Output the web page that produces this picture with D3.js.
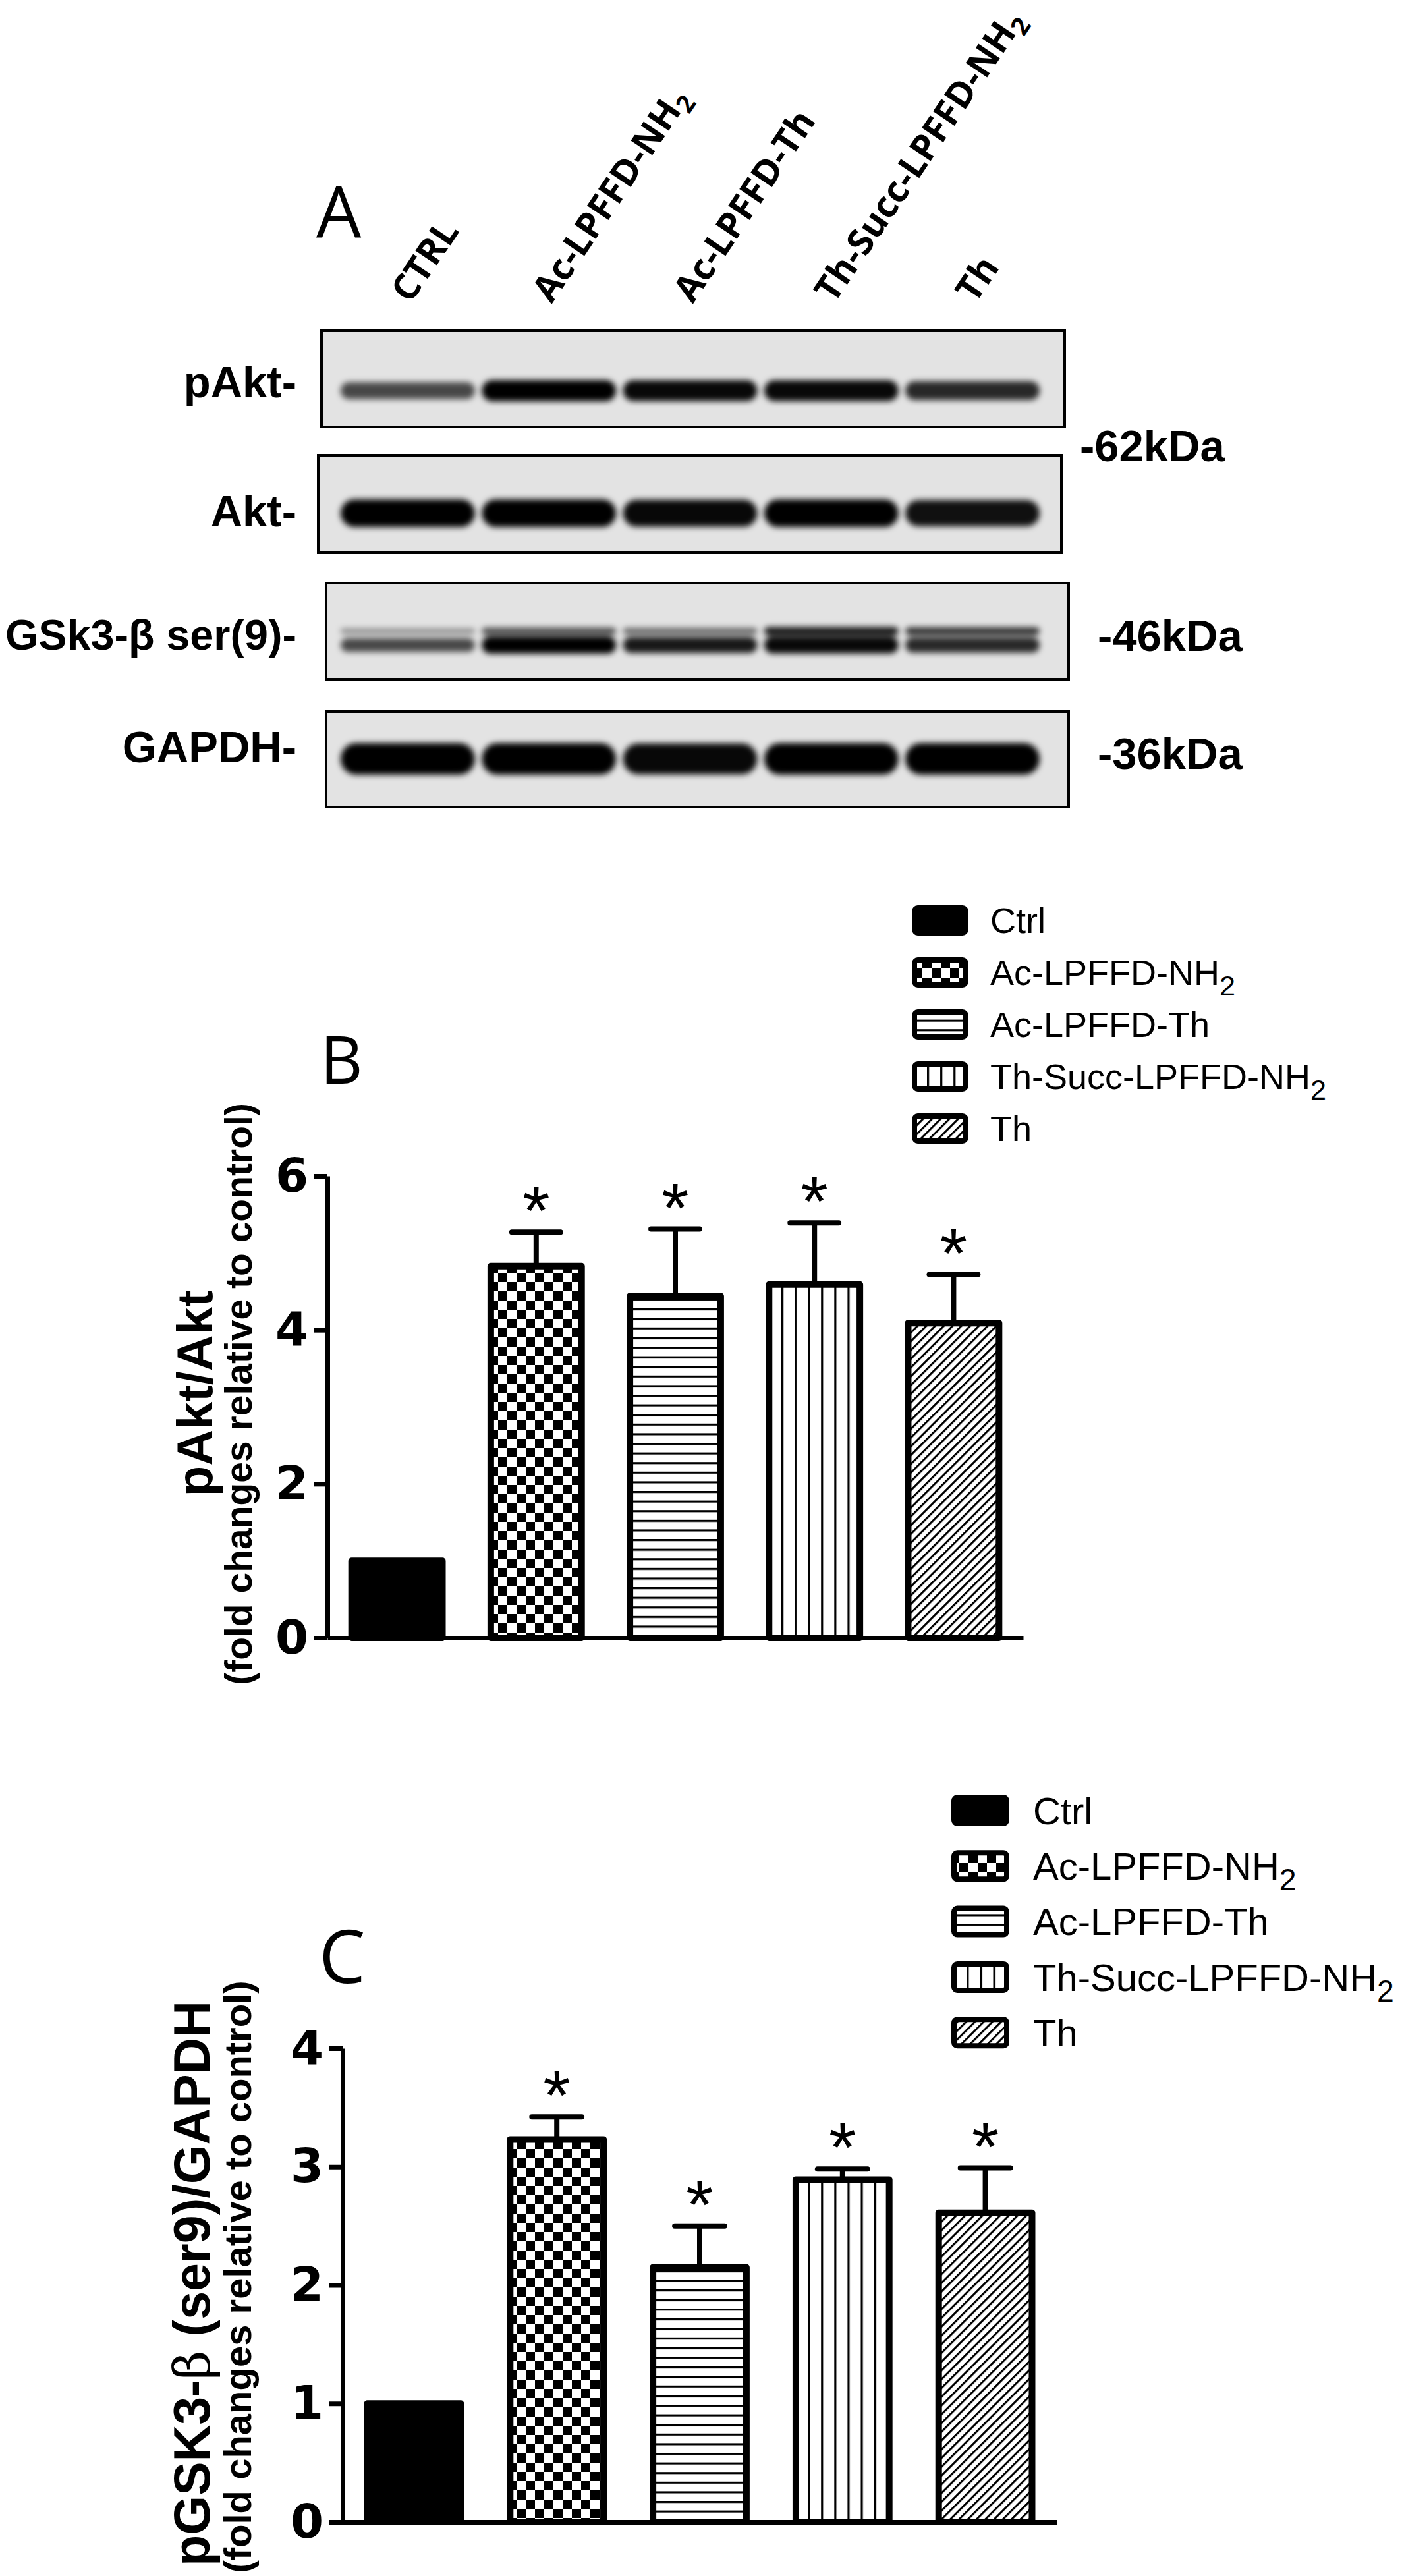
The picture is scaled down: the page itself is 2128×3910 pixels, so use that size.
<!DOCTYPE html>
<html><head><meta charset="utf-8">
<script src="https://cdn.jsdelivr.net/npm/d3@7/dist/d3.min.js"></script>
<style>body{margin:0;background:#fff}svg{display:block}</style>
</head><body><svg id="fig"></svg>
<script>
// ---------- data ----------
const lanes = ["CTRL","Ac-LPFFD-NH2","Ac-LPFFD-Th","Th-Succ-LPFFD-NH2","Th"];
const blotLabels = ["pAkt-","Akt-","GSk3-\u03b2 ser(9)-","GAPDH-"];
const sizeMarkers = ["-62kDa","-46kDa","-36kDa"];
const pAktBand = [0.55,1.0,0.95,0.95,0.75];
const aktBand = [1.0,1.0,0.95,1.0,0.9];
const gskBand = [0.55,1.0,0.85,0.95,0.75];
const gskUpperBand = [0.15,0.55,0.4,0.9,0.75];
const gapdhBand = [1.0,1.0,0.95,1.0,1.0];

const groups = ["Ctrl","Ac-LPFFD-NH2","Ac-LPFFD-Th","Th-Succ-LPFFD-NH2","Th"];
const pAktMean = [1.0,4.83,4.44,4.59,4.09];
const pAktSEM  = [0,0.44,0.87,0.80,0.63];
const gskMean  = [1.0,3.23,2.15,2.89,2.61];
const gskSEM   = [0,0.19,0.35,0.09,0.38];
const pAktTicks = [0,2,4,6];
const gskTicks  = [0,1,2,3,4];
const signif = ["","*","*","*","*"];
const fills = ["#000","url(#checker)","url(#hlines)","url(#vlines)","url(#diag)"];

// ---------- setup ----------
const W=2128,H=3910;
const SANS="'Liberation Sans', Arial, Helvetica, sans-serif";
const svg=d3.select("#fig").attr("width",W).attr("height",H);
svg.append("rect").attr("width",W).attr("height",H).attr("fill","#fff");
const defs=svg.append("defs");
function pat(id,w,h,tf){const p=defs.append("pattern").attr("id",id).attr("patternUnits","userSpaceOnUse").attr("width",w).attr("height",h);if(tf)p.attr("patternTransform",tf);p.append("rect").attr("width",w).attr("height",h).attr("fill","#fff");return p;}
let p=pat("checker",28,28);
p.append("rect").attr("width",14).attr("height",14).attr("fill","#000");
p.append("rect").attr("x",14).attr("y",14).attr("width",14).attr("height",14).attr("fill","#000");
p=pat("hlines",20,14.6); p.append("rect").attr("width",20).attr("height",3.2).attr("fill","#000");
p=pat("vlines",20.1,20); p.append("rect").attr("width",3.2).attr("height",20).attr("fill","#000");
p=pat("diag",9.4,20,"rotate(45)"); p.append("rect").attr("width",3).attr("height",20).attr("fill","#000");
defs.append("filter").attr("id","blur").attr("x","-20%").attr("y","-100%").attr("width","140%").attr("height","300%")
  .append("feGaussianBlur").attr("stdDeviation",5);

function labelText(sel,text,subSize,subDy){
  if(text.endsWith("NH2")){
    sel.append("tspan").text(text.slice(0,-1));
    sel.append("tspan").attr("font-size",subSize).attr("dy",subDy).text("2");
  } else sel.text(text);
}

// ---------- Panel A ----------
svg.append("text").attr("x",480).attr("y",361).attr("font-family","'Open Sans', sans-serif")
  .attr("font-size",108).attr("fill","#000").text("A");

const laneX=d3.scaleBand().domain(lanes).range([515,1580]).paddingInner(0.03);
lanes.forEach(l=>{
  const t=svg.append("text").attr("font-family","'Open Sans', sans-serif").attr("font-weight",700)
    .attr("font-size",55).attr("transform",`translate(${laneX(l)+laneX.bandwidth()/2+4},462) rotate(-56)`);
  labelText(t,l,38,12);
});

const blotRows=[
  {box:[488,502,1616,648], labelY:603, bands:[{vals:pAktBand,cy:593,h:32}]},
  {box:[483,691,1611,839], labelY:799, bands:[{vals:aktBand,cy:779,h:42}]},
  {box:[495,885,1622,1031], labelY:986, bands:[{vals:gskUpperBand,cy:958,h:13},{vals:gskBand,cy:979,h:26}]},
  {box:[495,1080,1622,1225], labelY:1157, bands:[{vals:gapdhBand,cy:1152,h:48}]}
];
blotRows.forEach((r,i)=>{
  const [x0,y0,x1,y1]=r.box;
  const cid="clip"+i;
  defs.append("clipPath").attr("id",cid).append("rect").attr("x",x0).attr("y",y0).attr("width",x1-x0).attr("height",y1-y0);
  svg.append("rect").attr("x",x0).attr("y",y0).attr("width",x1-x0).attr("height",y1-y0).attr("fill","#e3e3e3");
  const g=svg.append("g").attr("clip-path",`url(#${cid})`).append("g").attr("filter","url(#blur)");
  r.bands.forEach(b=>{
    g.selectAll(null).data(b.vals).join("rect")
      .attr("x",(v,j)=>laneX(lanes[j])+2)
      .attr("width",laneX.bandwidth()-4)
      .attr("y",v=>b.cy-b.h*(0.55+0.45*v)/2)
      .attr("height",v=>b.h*(0.55+0.45*v))
      .attr("rx",v=>b.h*(0.55+0.45*v)/2)
      .attr("fill","#000").attr("fill-opacity",v=>0.3+0.7*v);
  });
  svg.append("rect").attr("x",x0).attr("y",y0).attr("width",x1-x0).attr("height",y1-y0)
    .attr("fill","none").attr("stroke","#000").attr("stroke-width",4);
  const t=svg.append("text").attr("x",450).attr("y",r.labelY).attr("text-anchor","end")
    .attr("font-family",SANS).attr("font-weight","bold").attr("font-size",67).text(blotLabels[i]);
  const len=t.node().getComputedTextLength();
  if(len>442) t.attr("font-size",67*442/len);
});
const markerPos=[[1639,700],[1666,988],[1666,1167]];
sizeMarkers.forEach((m,i)=>svg.append("text").attr("x",markerPos[i][0]).attr("y",markerPos[i][1])
  .attr("font-family",SANS).attr("font-weight","bold").attr("font-size",67).text(m));

// ---------- bar charts ----------
function barChart(c){
  const g=svg.append("g");
  const y=d3.scaleLinear().domain([0,c.max]).range([c.y0,c.y1]);
  const x=d3.scaleBand().domain(groups).range([c.x0,c.x1]).paddingInner(0.3).paddingOuter(0.15);
  const sw=10;
  groups.forEach((k,i)=>{
    if(c.sem[i]<=0) return;
    const cx=x(k)+x.bandwidth()/2, yt=y(c.mean[i]+c.sem[i]);
    g.append("line").attr("x1",cx).attr("x2",cx).attr("y1",y(c.mean[i])).attr("y2",yt).attr("stroke","#000").attr("stroke-width",8);
    g.append("line").attr("x1",cx-x.bandwidth()/4).attr("x2",cx+x.bandwidth()/4).attr("y1",yt).attr("y2",yt)
      .attr("stroke","#000").attr("stroke-width",8).attr("stroke-linecap","round");
    g.append("text").attr("x",cx).attr("y",yt+c.starDy).attr("text-anchor","middle").attr("font-family",SANS)
      .attr("font-size",106).text(signif[i]);
  });
  g.selectAll(null).data(groups).join("rect")
    .attr("x",k=>x(k)+sw/2).attr("width",x.bandwidth()-sw)
    .attr("y",(k,i)=>y(c.mean[i])).attr("height",(k,i)=>y(0)-y(c.mean[i]))
    .attr("fill",(k,i)=>fills[i]).attr("stroke","#000").attr("stroke-width",sw).attr("stroke-linejoin","round");
  const ya=g.append("g").attr("transform",`translate(${c.x0},0)`)
    .call(d3.axisLeft(y).tickValues(c.ticks).tickSize(21).tickSizeOuter(0).tickPadding(8).tickFormat(d3.format("d")));
  ya.select(".domain").attr("stroke-width",7);
  ya.selectAll(".tick line").attr("stroke-width",7);
  ya.selectAll(".tick text").attr("font-family","'DejaVu Sans', sans-serif").attr("font-weight","bold").attr("font-size",72).attr("fill","#000");
  const xa=g.append("g").attr("transform",`translate(0,${y(0)})`)
    .call(d3.axisBottom(x).tickSize(0).tickSizeOuter(0).tickFormat(""));
  xa.select(".domain").attr("stroke-width",7);
  g.append("text").attr("transform",`translate(${c.tx},${c.tyc}) rotate(-90)`).attr("text-anchor","middle")
    .attr("font-family",SANS).attr("font-weight","bold").attr("font-size",c.tSize).call(c.title);
  g.append("text").attr("transform",`translate(${c.sx},${c.syc}) rotate(-90)`).attr("text-anchor","middle")
    .attr("font-family",SANS).attr("font-weight","bold").attr("font-size",c.sSize).text("(fold changes relative to control)");
  g.append("text").attr("x",c.lx).attr("y",c.ly).attr("font-family","'Open Sans', sans-serif").attr("font-size",c.lSize).text(c.letter);
  const lg=g.append("g");
  groups.forEach((k,i)=>{
    const cy=c.legY+i*c.legStep;
    lg.append("rect").attr("x",c.legX+4).attr("y",cy-c.swH/2+4).attr("width",c.swW-8).attr("height",c.swH-8)
      .attr("rx",5).attr("fill",fills[i]).attr("stroke","#000").attr("stroke-width",8);
    const t=lg.append("text").attr("x",c.legTx).attr("y",cy+c.legFont*0.36).attr("font-family",SANS).attr("font-size",c.legFont);
    labelText(t,k,c.legFont*0.8,c.legFont*0.28);
  });
}

barChart({max:6,y0:2486,y1:1785,x0:497,x1:1553,mean:pAktMean,sem:pAktSEM,ticks:pAktTicks,starDy:4,
  tx:322,tyc:2115,tSize:76,title:t=>t.text("pAkt/Akt"),sx:382,syc:2116,sSize:57,
  letter:"B",lx:486,ly:1645,lSize:100,
  legX:1384,legY:1397,legStep:79,swW:86,swH:46,legTx:1503,legFont:54});

barChart({max:4,y0:3828,y1:3109,x0:520,x1:1604,mean:gskMean,sem:gskSEM,ticks:gskTicks,starDy:4,
  tx:318,tyc:3466,tSize:77,title:t=>{t.append("tspan").text("pGSK3-");t.append("tspan").attr("font-weight","normal").attr("font-family","'DejaVu Serif', serif").text("\u03b2");t.append("tspan").text(" (ser9)/GAPDH");},
  sx:381,syc:3456,sSize:58,
  letter:"C",lx:484,ly:3010,lSize:112,
  legX:1444,legY:2748,legStep:84.3,swW:88,swH:48,legTx:1568,legFont:58});
</script></body></html>
